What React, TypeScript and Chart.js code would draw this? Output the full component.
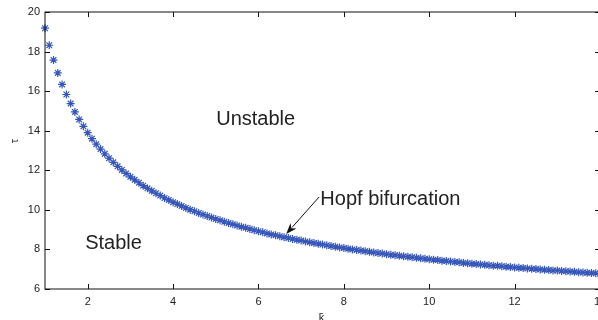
import React, { useEffect, useRef } from "react";
import { Chart, registerables } from "chart.js";

Chart.register(...registerables);

const kValues = [
  1.0, 1.1, 1.2, 1.3, 1.4, 1.5, 1.6, 1.7, 1.8, 1.9,
  2.0, 2.1, 2.2, 2.3, 2.4, 2.5, 2.6, 2.7, 2.8, 2.9,
  3.0, 3.1, 3.2, 3.3, 3.4, 3.5, 3.6, 3.7, 3.8, 3.9,
  4.0, 4.1, 4.2, 4.3, 4.4, 4.5, 4.6, 4.7, 4.8, 4.9,
  5.0, 5.1, 5.2, 5.3, 5.4, 5.5, 5.6, 5.7, 5.8, 5.9,
  6.0, 6.1, 6.2, 6.3, 6.4, 6.5, 6.6, 6.7, 6.8, 6.9,
  7.0, 7.1, 7.2, 7.3, 7.4, 7.5, 7.6, 7.7, 7.8, 7.9,
  8.0, 8.1, 8.2, 8.3, 8.4, 8.5, 8.6, 8.7, 8.8, 8.9,
  9.0, 9.1, 9.2, 9.3, 9.4, 9.5, 9.6, 9.7, 9.8, 9.9,
  10.0, 10.1, 10.2, 10.3, 10.4, 10.5, 10.6, 10.7, 10.8, 10.9,
  11.0, 11.1, 11.2, 11.3, 11.4, 11.5, 11.6, 11.7, 11.8, 11.9,
  12.0, 12.1, 12.2, 12.3, 12.4, 12.5, 12.6, 12.7, 12.8, 12.9,
  13.0, 13.1, 13.2, 13.3, 13.4, 13.5, 13.6, 13.7, 13.8, 13.9,
  14.0,
];

const tauValues = [
  19.18, 18.32, 17.57, 16.92, 16.34, 15.83, 15.37, 14.95, 14.57, 14.22,
  13.90, 13.60, 13.32, 13.07, 12.83, 12.61, 12.40, 12.20, 12.02, 11.84,
  11.67, 11.52, 11.37, 11.22, 11.09, 10.96, 10.84, 10.72, 10.60, 10.50,
  10.39, 10.29, 10.20, 10.10, 10.01, 9.93, 9.84, 9.76, 9.69, 9.61,
  9.54, 9.47, 9.40, 9.33, 9.27, 9.21, 9.15, 9.09, 9.03, 8.97,
  8.92, 8.87, 8.81, 8.76, 8.72, 8.67, 8.62, 8.58, 8.53, 8.49,
  8.45, 8.40, 8.36, 8.32, 8.29, 8.25, 8.21, 8.17, 8.14, 8.10,
  8.07, 8.04, 8.00, 7.97, 7.94, 7.91, 7.88, 7.85, 7.82, 7.79,
  7.76, 7.73, 7.71, 7.68, 7.65, 7.63, 7.60, 7.58, 7.55, 7.53,
  7.50, 7.48, 7.46, 7.43, 7.41, 7.39, 7.37, 7.35, 7.32, 7.30,
  7.28, 7.26, 7.24, 7.22, 7.20, 7.18, 7.17, 7.15, 7.13, 7.11,
  7.09, 7.07, 7.06, 7.04, 7.02, 7.01, 6.99, 6.97, 6.96, 6.94,
  6.93, 6.91, 6.90, 6.88, 6.87, 6.85, 6.84, 6.82, 6.81, 6.79,
  6.78,
];

const xTickValues = [2, 4, 6, 8, 10, 12, 14];
const yTickValues = [6, 8, 10, 12, 14, 16, 18, 20];
const xRange = [1, 14];
const yRange = [6, 20];

const xTitle = "k\u0304";
const yTitle = "\u03c4";
const regionText = ["Unstable", "Stable"];
const regionAnchors = [
  [5.01, 14.27],
  [1.94, 8.02],
];
const hopfText = "Hopf bifurcation";
const hopfAnchor = [7.45, 10.25];
const arrowFrom = [7.42, 10.65];
const arrowTo = [6.65, 8.78];

const FONT = '"Liberation Sans", Arial, Helvetica, sans-serif';
const AXIS_COLOR = "#111111";
const TEXT_COLOR = "#222222";
const POINT_COLOR = "#3656b8";

const framePlugin = {
  id: "framePlugin",
  afterDraw(chart: any) {
    const ctx = chart.ctx;
    const a = chart.chartArea;
    const xs = chart.scales.x;
    const ys = chart.scales.y;
    ctx.save();
    // frame
    ctx.strokeStyle = AXIS_COLOR;
    ctx.lineWidth = 1;
    ctx.strokeRect(a.left, a.top, a.right - a.left, a.bottom - a.top);
    // inner ticks
    const tl = 5;
    ctx.beginPath();
    xTickValues.forEach((v) => {
      const px = Math.round(xs.getPixelForValue(v)) + 0.5;
      ctx.moveTo(px, a.bottom);
      ctx.lineTo(px, a.bottom - tl);
      ctx.moveTo(px, a.top);
      ctx.lineTo(px, a.top + tl);
    });
    yTickValues.forEach((v) => {
      const py = Math.round(ys.getPixelForValue(v)) + 0.5;
      ctx.moveTo(a.left, py);
      ctx.lineTo(a.left + tl, py);
      ctx.moveTo(a.right, py);
      ctx.lineTo(a.right - tl, py);
    });
    ctx.stroke();

    // axis titles
    ctx.fillStyle = TEXT_COLOR;
    ctx.font = `11px ${FONT}`;
    ctx.textAlign = "center";
    ctx.textBaseline = "alphabetic";
    ctx.fillText(xTitle, (a.left + a.right) / 2 - 1, 321);
    ctx.save();
    ctx.translate(15, 141);
    ctx.rotate(-Math.PI / 2);
    ctx.textBaseline = "middle";
    ctx.fillText(yTitle, 0, 0);
    ctx.restore();

    // region labels
    ctx.font = `20px ${FONT}`;
    ctx.textAlign = "left";
    ctx.textBaseline = "alphabetic";
    regionText.forEach((t, i) => {
      ctx.fillText(
        t,
        xs.getPixelForValue(regionAnchors[i][0]),
        ys.getPixelForValue(regionAnchors[i][1])
      );
    });
    ctx.fillText(hopfText, xs.getPixelForValue(hopfAnchor[0]), ys.getPixelForValue(hopfAnchor[1]));

    // arrow
    const x1 = xs.getPixelForValue(arrowFrom[0]);
    const y1 = ys.getPixelForValue(arrowFrom[1]);
    const x2 = xs.getPixelForValue(arrowTo[0]);
    const y2 = ys.getPixelForValue(arrowTo[1]);
    const ang = Math.atan2(y2 - y1, x2 - x1);
    const hl = 11;
    const hw = 4;
    ctx.strokeStyle = "#111";
    ctx.lineWidth = 1;
    ctx.beginPath();
    ctx.moveTo(x1, y1);
    ctx.lineTo(x2 - Math.cos(ang) * hl * 0.8, y2 - Math.sin(ang) * hl * 0.8);
    ctx.stroke();
    ctx.fillStyle = "#111";
    ctx.beginPath();
    ctx.moveTo(x2, y2);
    ctx.lineTo(
      x2 - Math.cos(ang) * hl - Math.sin(ang) * hw,
      y2 - Math.sin(ang) * hl + Math.cos(ang) * hw
    );
    ctx.lineTo(x2 - Math.cos(ang) * hl * 0.7, y2 - Math.sin(ang) * hl * 0.7);
    ctx.lineTo(
      x2 - Math.cos(ang) * hl + Math.sin(ang) * hw,
      y2 - Math.sin(ang) * hl - Math.cos(ang) * hw
    );
    ctx.closePath();
    ctx.fill();
    ctx.restore();
  },
};

export default function App() {
  const canvasRef = useRef<HTMLCanvasElement | null>(null);

  useEffect(() => {
    const canvas = canvasRef.current;
    if (!canvas) return;
    const chart = new Chart(canvas, {
      type: "scatter",
      data: {
        datasets: [
          {
            label: "tau",
            data: kValues.map((k, i) => ({ x: k, y: tauValues[i] })),
            pointStyle: "star",
            pointRadius: 4,
            pointBorderWidth: 1.2,
            borderColor: POINT_COLOR,
            backgroundColor: POINT_COLOR,
            showLine: false,
            clip: 6,
          },
        ],
      },
      options: {
        animation: false,
        responsive: false,
        devicePixelRatio: 1,
        layout: { autoPadding: false, padding: { top: 12, left: 0, right: 0, bottom: 0 } },
        plugins: {
          legend: { display: false },
          tooltip: { enabled: false },
          title: { display: false },
        },
        scales: {
          x: {
            type: "linear",
            min: xRange[0],
            max: xRange[1],
            grid: { display: false, drawTicks: false },
            border: { display: false },
            ticks: {
              padding: 6,
              color: TEXT_COLOR,
              font: { family: FONT, size: 11 },
              maxRotation: 0,
              autoSkip: false,
            },
            afterBuildTicks: (scale: any) => {
              scale.ticks = xTickValues.map((v) => ({ value: v }));
            },
            afterFit: (scale: any) => {
              scale.height = 31;
              scale.paddingLeft = 0;
              scale.paddingRight = 0;
            },
          },
          y: {
            type: "linear",
            min: yRange[0],
            max: yRange[1],
            grid: { display: false, drawTicks: false },
            border: { display: false },
            ticks: {
              padding: 5,
              color: TEXT_COLOR,
              font: { family: FONT, size: 11 },
              autoSkip: false,
            },
            afterBuildTicks: (scale: any) => {
              scale.ticks = yTickValues.map((v) => ({ value: v }));
            },
            afterFit: (scale: any) => {
              scale.width = 45;
              scale.paddingTop = 0;
              scale.paddingBottom = 0;
            },
          },
        },
      },
      plugins: [framePlugin],
    });
    return () => chart.destroy();
  }, []);

  return (
    <div
      style={{
        position: "fixed",
        left: 0,
        top: 0,
        width: 598,
        height: 320,
        overflow: "hidden",
        background: "#fff",
      }}
    >
      <canvas ref={canvasRef} width={600} height={320} style={{ display: "block" }} />
    </div>
  );
}
